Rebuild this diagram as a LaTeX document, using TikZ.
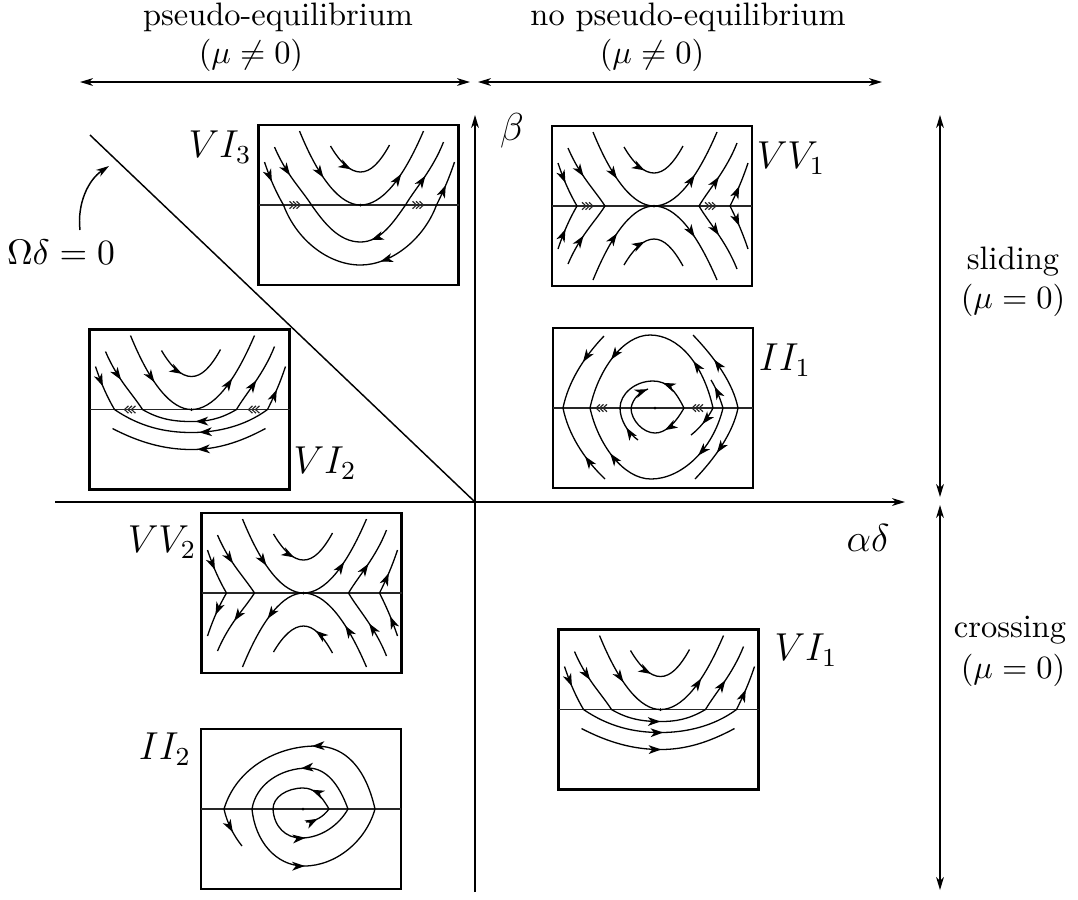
\documentclass[tikz,border=0pt]{standalone}
\usepackage{amsmath,amssymb}
\usetikzlibrary{arrows.meta,decorations.markings}
\tikzset{
  every node/.style={inner sep=1pt},
  ftip/.tip={Stealth[length=3.9pt,width=2.7pt,inset=1.1pt]},
  atip/.tip={Stealth[length=4pt,width=2.4pt,inset=1.2pt]},
  flow/.style={postaction={decorate,decoration={markings,mark=at position #1 with {\arrow{ftip}}}}},
  back/.style={postaction={decorate,decoration={markings,mark=at position #1 with {\arrowreversed{ftip}}}}},
  orbit/.style={line width=0.4pt},
  frame/.style={line width=0.65pt},
  axis/.style={line width=0.45pt},
  swline/.style={line width=0.4pt, black!85},
  chev/.style={line width=0.35pt, black!85},
  plbl/.style={font=\large},
  tlbl/.style={inner sep=0pt},
  slide/.pic={\foreach \s in {-6,-2.5,1} \draw[chev,xscale=#1] (\s,-3.7) -- ++(4,3.7) -- ++(-4,3.7);},
  tophalf/.pic={
    \draw[orbit,flow=0.38] (-28,-59) .. controls (-18,-42) and (-8,-33) .. (2,-33) .. controls (12,-33) and (21,-42) .. (31,-60);
    \draw[orbit,flow=0.26,flow=0.76] (-59,-74) .. controls (-39,-25) and (-18,0) .. (2,0) .. controls (23,0) and (44,-25) .. (65,-74);
    \draw[orbit,flow=0.47] (-84,-58) .. controls (-72,-30) and (-58,-17) .. (-47,0);
    \draw[orbit,flow=0.45] (-94,-43) .. controls (-88,-25) and (-82,-12) .. (-75,0);
    \draw[orbit,flow=0.48] (47,0) .. controls (57,-17) and (74,-35) .. (85,-63);
    \draw[orbit,flow=0.47] (78,0) .. controls (84,-12) and (90,-25) .. (96,-43);
  }
}
\newcommand{\pbox}{\draw[frame] (-100,-80) rectangle (100,80);
  \draw[swline] (-100,0) -- (100,0); \fill (2,0) circle (1.5);}

\begin{document}
\begin{tikzpicture}[x=0.308pt,y=-0.308pt]
\useasboundingbox (0,0) rectangle (1078,899);

% axes and the line Omega delta = 0
\coordinate (O) at (475,502);
\coordinate (xl) at (55,502);
\coordinate (xr) at (905,502);
\coordinate (yt) at (475,115);
\coordinate (yb) at (475,892);
\coordinate (sw) at (90,135);
\draw[axis,-{atip}] (xl) -- (xr);
\draw[axis,-{atip}] (yb) -- (yt);
\draw[axis] (sw) -- (O);
\node[plbl] (beta) at (512,131) {$\beta$};
\node[plbl] (ad) at (868,538) {$\alpha\delta$};
\node[font=\fontsize{10.8}{13}\selectfont] (om) at (61,252) {$\Omega\delta=0$};
\coordinate (oma) at (80,230);
\coordinate (omb) at (109,166);
\draw[axis,-{atip}] (oma) .. controls (77,204) and (88,180) .. (omb);

% regions
\coordinate (la1) at (80,82);  \coordinate (la2) at (470,82);
\coordinate (ra1) at (478,82); \coordinate (ra2) at (882,82);
\coordinate (sa1) at (940,115); \coordinate (sa2) at (940,497);
\coordinate (ca1) at (940,505); \coordinate (ca2) at (940,890);
\draw[axis,{atip}-{atip}] (la1) -- (la2);
\draw[axis,{atip}-{atip}] (ra1) -- (ra2);
\draw[axis,{atip}-{atip}] (sa1) -- (sa2);
\draw[axis,{atip}-{atip}] (ca1) -- (ca2);
\node[tlbl] (peq) at (278,17) {pseudo-equilibrium};
\node[tlbl] (peqmu) at (251,55) {$(\mu\neq0)$};
\node[tlbl] (npeq) at (688,17) {no pseudo-equilibrium};
\node[tlbl] (npeqmu) at (652,55) {$(\mu\neq0)$};
\node[tlbl] (sl) at (1013,262) {sliding};
\node[tlbl] (slmu) at (1013,300) {$(\mu=0)$};
\node[tlbl] (cr) at (1010,630) {crossing};
\node[tlbl] (crmu) at (1013,670) {$(\mu=0)$};

% VI_3
\coordinate (vi3) at (358.5,205);
\begin{scope}[shift={(vi3)}]
  \pbox \pic {tophalf};
  \draw[orbit,back=0.6] (-47,0) .. controls (-35,17) and (-20,37) .. (2,37) .. controls (22,37) and (35,17) .. (47,0);
  \draw[orbit,back=0.6] (-75,0) .. controls (-62,35) and (-30,60) .. (2,60) .. controls (32,60) and (65,35) .. (78,0);
  \pic at (-63,0) {slide=1}; \pic at (60,0) {slide=1};
\end{scope}
\node[plbl] (lvi3) at (220,147) {$VI_3$};

% VV_1
\coordinate (vv1) at (652,206);
\begin{scope}[shift={(vv1)}]
  \pbox \pic {tophalf}; \pic[yscale=-1] {tophalf};
  \pic at (-64,0) {slide=1}; \pic at (59,0) {slide=1};
\end{scope}
\node[plbl] (lvv1) at (791,158) {$VV_1$};

% VI_2
\coordinate (vi2) at (189.5,409.5);
\begin{scope}[shift={(vi2)}]
  \pbox \pic {tophalf};
  \draw[orbit,back=0.56] (-47,0) .. controls (-30,10) and (-15,12) .. (2,12) .. controls (17,12) and (30,10) .. (47,0);
  \draw[orbit,back=0.55] (-75,0) .. controls (-50,17) and (-25,23) .. (2,23) .. controls (27,23) and (55,17) .. (78,0);
  \draw[orbit,back=0.55] (-77,19) .. controls (-50,33) and (-25,40) .. (2,40) .. controls (27,40) and (50,33) .. (76,19);
  \pic at (-60,0) {slide=-1}; \pic at (64,0) {slide=-1};
\end{scope}
\node[plbl] (lvi2) at (325,463) {$VI_2$};

% II_1
\coordinate (ii1) at (653,408);
\begin{scope}[shift={(ii1)}]
  \pbox
  \draw[orbit,flow=0.2,back=0.82] (-49,-72) .. controls (-70,-50) and (-85,-25) .. (-90,0) .. controls (-85,25) and (-70,50) .. (-48,71);
  \draw[orbit,flow=0.25,flow=0.74] (60,0) .. controls (50,-45) and (25,-73) .. (-3,-73) .. controls (-30,-73) and (-55,-38) .. (-63,0);
  \draw[orbit,flow=0.26,flow=0.76] (70,0) .. controls (60,42) and (28,71) .. (-2,71) .. controls (-30,71) and (-55,36) .. (-63,0);
  \draw[orbit,flow=0.75] (70,0) .. controls (67,-10) and (63,-20) .. (58,-28);
  \draw[orbit,flow=0.55] (60,0) .. controls (55,10) and (47,20) .. (38,27);
  \draw[orbit,back=0.19,flow=0.8] (40,-73) .. controls (62,-50) and (80,-25) .. (85,0) .. controls (80,25) and (62,50) .. (42,71);
  \draw[orbit,flow=0.37] (31,0) .. controls (22,-18) and (14,-27) .. (0,-27) .. controls (-18,-27) and (-33,-14) .. (-33,0);
  \draw[orbit,flow=0.38] (31,0) .. controls (22,16) and (12,25) .. (2,25) .. controls (-10,25) and (-22,12) .. (-22,0);
  \draw[orbit,flow=0.98] (-22,0) .. controls (-20,-10) and (-13,-16) .. (-5,-19);
  \draw[orbit,flow=0.45] (-15,32) .. controls (-25,25) and (-33,12) .. (-33,0);
  \pic at (-52,0) {slide=-1}; \pic at (44,0) {slide=-1};
\end{scope}
\node[plbl] (lii1) at (785,360) {$II_1$};

% VV_2
\coordinate (vv2) at (301.5,593);
\begin{scope}[shift={(vv2)}]
  \pbox \pic {tophalf};
  \draw[orbit,back=0.66] (-28,59) .. controls (-18,42) and (-8,33) .. (2,33) .. controls (12,33) and (21,42) .. (31,60);
  \draw[orbit,back=0.27,back=0.77] (-59,74) .. controls (-39,25) and (-18,0) .. (2,0) .. controls (23,0) and (44,25) .. (65,74);
  \draw[orbit,flow=0.5] (-47,0) .. controls (-58,17) and (-72,30) .. (-84,58);
  \draw[orbit,flow=0.52] (-75,0) .. controls (-82,12) and (-88,25) .. (-94,43);
  \draw[orbit,back=0.5] (47,0) .. controls (57,17) and (74,35) .. (85,63);
  \draw[orbit,back=0.55] (78,0) .. controls (84,12) and (90,25) .. (96,43);
\end{scope}
\node[plbl] (lvv2) at (162,542) {$VV_2$};

% VI_1
\coordinate (vi1) at (658.5,709.5);
\begin{scope}[shift={(vi1)}]
  \pbox \pic {tophalf};
  \draw[orbit,flow=0.52] (-47,0) .. controls (-30,10) and (-15,12) .. (2,12) .. controls (17,12) and (30,10) .. (47,0);
  \draw[orbit,flow=0.52] (-75,0) .. controls (-50,17) and (-25,23) .. (2,23) .. controls (27,23) and (55,17) .. (78,0);
  \draw[orbit,flow=0.52] (-77,19) .. controls (-50,33) and (-25,40) .. (2,40) .. controls (27,40) and (50,33) .. (76,19);
\end{scope}
\node[plbl] (lvi1) at (806,650) {$VI_1$};

% II_2
\coordinate (ii2) at (301,809);
\begin{scope}[shift={(ii2)}]
  \pbox
  \draw[orbit,flow=0.45] (5,13) .. controls (15,12) and (22,8) .. (28,0);
  \draw[orbit,flow=0.35] (28,0) .. controls (20,-14) and (13,-21) .. (2,-21) .. controls (-14,-21) and (-28,-12) .. (-28,0);
  \draw[orbit,flow=0.48] (-28,0) .. controls (-27,18) and (-15,29) .. (0,29) .. controls (20,29) and (38,16) .. (47,0);
  \draw[orbit,flow=0.5] (47,0) .. controls (38,-25) and (25,-41) .. (7,-41) .. controls (-20,-41) and (-45,-25) .. (-49,0);
  \draw[orbit,flow=0.47] (-49,0) .. controls (-46,32) and (-25,57) .. (3,57) .. controls (35,57) and (65,32) .. (74,0);
  \draw[orbit,flow=0.46] (74,0) .. controls (65,-40) and (45,-63) .. (15,-63) .. controls (-25,-63) and (-65,-40) .. (-77,0);
  \draw[orbit,flow=0.6] (-77,0) .. controls (-74,14) and (-67,27) .. (-59,37);
\end{scope}
\node[plbl] (lii2) at (165,749) {$II_2$};
\end{tikzpicture}
\end{document}
